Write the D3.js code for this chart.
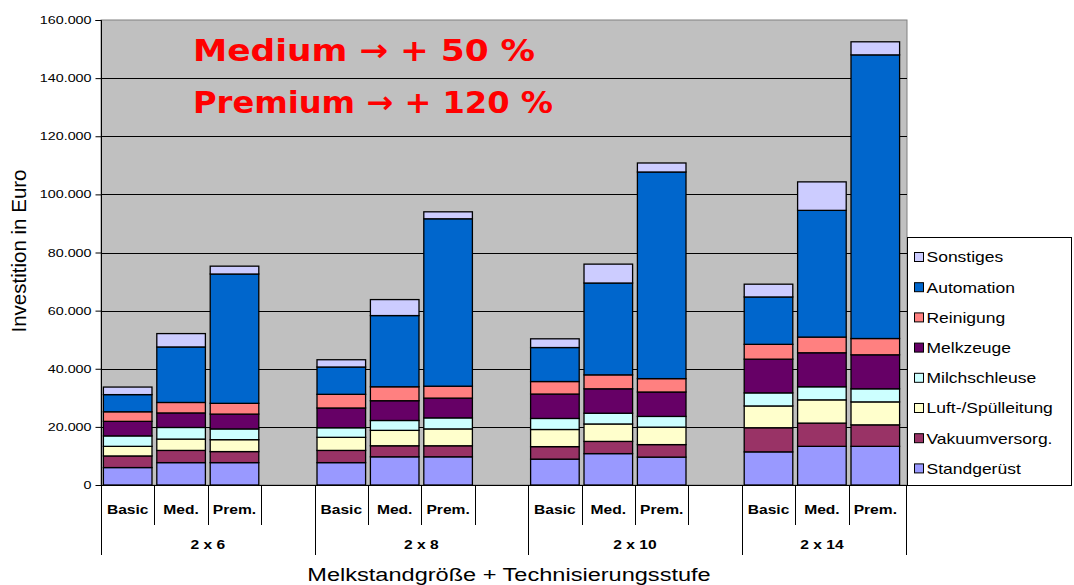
<!DOCTYPE html>
<html>
<head>
<meta charset="utf-8">
<script src="https://cdn.jsdelivr.net/npm/d3@7"></script>
<style>
    body { margin: 0; background: #fff; }
    svg { display: block; }
    text { font-family: 'Liberation Sans', Arial, sans-serif; }
</style>
</head>
<body>
<div id="chart"></div>
<script>
// Data //
const groups = ['2 x 6', '2 x 8', '2 x 10', '2 x 14']
const levels = ['Basic', 'Med.', 'Prem.']
const seriesNames = ['Standgerüst', 'Vakuumversorg.', 'Luft-/Spülleitung', 'Milchschleuse', 'Melkzeuge', 'Reinigung', 'Automation', 'Sonstiges']
const seriesColors = ['#9999FF', '#993366', '#FFFFCC', '#CCFFFF', '#660066', '#FF8080', '#0066CC', '#CCCCFF']

// one value per bar: 2x6 Basic/Med/Prem, 2x8 ..., 2x10 ..., 2x14 ...
const standgeruest = [6000, 7700, 7700, 7700, 9700, 9700, 8900, 10800, 9600, 11400, 13300, 13300]
const vakuumversorgung = [4000, 4200, 3800, 4200, 3800, 3800, 4300, 4200, 4300, 8300, 8000, 7400]
const spuelleitung = [3300, 3900, 4100, 4500, 5300, 5800, 5900, 6000, 6000, 7500, 8000, 7900]
const milchschleuse = [3600, 4000, 3700, 3300, 3400, 3800, 3800, 3700, 3700, 4500, 4500, 4500]
const melkzeuge = [5000, 5000, 5100, 6800, 6800, 6800, 8400, 8400, 8400, 11600, 11700, 11700]
const reinigung = [3300, 3600, 3700, 4700, 4800, 4100, 4300, 4800, 4600, 5100, 5400, 5600]
const automation = [5900, 19100, 44500, 9400, 24500, 57600, 11700, 31600, 71100, 16300, 43600, 97600]
const sonstiges = [2600, 4600, 2700, 2500, 5500, 2400, 3000, 6500, 3100, 4400, 9800, 4500]

const seriesValues = [standgeruest, vakuumversorgung, spuelleitung, milchschleuse, melkzeuge, reinigung, automation, sonstiges]

const yTicks = [0, 20000, 40000, 60000, 80000, 100000, 120000, 140000, 160000]
const notes = ['Medium  \u2192 + 50 %', 'Premium \u2192 + 120 %']

// Layout //
const width = 1074
const height = 585
const plot = { left: 101, right: 907, top: 20, bottom: 485, bandRight: 902 }
const SX = 1.3 // the source picture is stretched horizontally

// build the 15 category slots (a blank slot after each group but the last)
const slots = []
groups.forEach((g, gi) => {
    levels.forEach(l => slots.push({ key: `${g}|${l}`, group: g, level: l }))
    if (gi < groups.length - 1) slots.push({ key: `${g}|gap`, group: g, level: '' })
})

const rows = []
groups.forEach(g => levels.forEach(l => rows.push({ key: `${g}|${l}` })))
rows.forEach((r, i) => seriesNames.forEach((s, si) => { r[s] = seriesValues[si][i] }))

// Scales //
const x = d3.scaleBand()
    .domain(slots.map(d => d.key))
    .range([plot.left, plot.bandRight])
    .paddingInner(0.09)
    .paddingOuter(0.045)

const y = d3.scaleLinear()
    .domain([0, 160000])
    .range([plot.bottom, plot.top])

const color = d3.scaleOrdinal().domain(seriesNames).range(seriesColors)

const locale = d3.formatLocale({ decimal: ',', thousands: '.', grouping: [3], currency: ['', ' €'] })
const fmt = locale.format(',d')

const stack = d3.stack().keys(seriesNames)(rows)

// Helpers //
const stretched = (sel, tx, ty, sx = SX) => sel.attr('transform', `translate(${tx},${ty}) scale(${sx},1)`)

// Drawers //
const svg = d3.select('#chart').append('svg')
    .attr('width', width)
    .attr('height', height)

svg.append('rect')
    .attr('x', plot.left)
    .attr('y', plot.top)
    .attr('width', plot.right - plot.left)
    .attr('height', plot.bottom - plot.top)
    .attr('fill', '#C0C0C0')
    .attr('stroke', '#808080')
    .attr('stroke-width', 1)

// gridlines
svg.append('g')
    .selectAll('line')
    .data(yTicks.filter(t => t > 0 && t < 160000))
    .join('line')
        .attr('x1', plot.left)
        .attr('x2', plot.right)
        .attr('y1', d => Math.round(y(d)) + 0.5)
        .attr('y2', d => Math.round(y(d)) + 0.5)
        .attr('stroke', '#000')

// bars
svg.append('g')
    .selectAll('g')
    .data(stack)
    .join('g')
        .attr('fill', d => color(d.key))
    .selectAll('rect')
    .data(d => d)
    .join('rect')
        .attr('x', d => x(d.data.key))
        .attr('width', x.bandwidth())
        .attr('y', d => y(d[1]))
        .attr('height', d => y(d[0]) - y(d[1]))
        .attr('stroke', '#000')
        .attr('stroke-width', 1.3)

// y axis
const yAxis = svg.append('g')
    .attr('transform', `translate(${plot.left + 0.5},0)`)
    .call(d3.axisLeft(y).tickValues(yTicks).tickSize(6).tickPadding(4).tickFormat(fmt))

yAxis.select('.domain').attr('stroke', '#000').attr('d', `M-6,${plot.top + 0.5}H0V${plot.bottom + 0.5}`)
yAxis.selectAll('.tick line').attr('stroke', '#000')
yAxis.selectAll('.tick text')
    .attr('font-size', 11)
    .attr('fill', '#000')
    .each(function () {
        const t = d3.select(this)
        t.attr('x', null).attr('dy', '0.32em')
        stretched(t, -10, 0)
    })

svg.append('text')
    .attr('transform', 'translate(26,251) rotate(-90) scale(1.08,1.1)')
    .attr('text-anchor', 'middle')
    .attr('font-size', 19)
    .text('Investition in Euro')

// category axis
const cat = svg.append('g')

cat.append('line')
    .attr('x1', plot.left)
    .attr('x2', plot.right)
    .attr('y1', plot.bottom + 0.5)
    .attr('y2', plot.bottom + 0.5)
    .attr('stroke', '#000')

const step = x.step()
const slotLeft = d => x(d.key) - x.paddingInner() * step / 2

cat.selectAll('.slot-tick')
    .data(slots)
    .join('line')
        .attr('class', 'slot-tick')
        .attr('x1', d => Math.round(slotLeft(d)) + 0.5)
        .attr('x2', d => Math.round(slotLeft(d)) + 0.5)
        .attr('y1', plot.bottom)
        .attr('y2', (d, i) => (i === 0 || slots[i - 1].group !== d.group) ? 555 : 525)
        .attr('stroke', '#000')

cat.append('line')
    .attr('x1', plot.right - 0.5)
    .attr('x2', plot.right - 0.5)
    .attr('y1', plot.bottom)
    .attr('y2', 555)
    .attr('stroke', '#000')

cat.selectAll('.level-label')
    .data(slots.filter(d => d.level))
    .join('text')
        .attr('class', 'level-label')
        .attr('text-anchor', 'middle')
        .attr('font-size', 12)
        .attr('font-weight', 'bold')
        .each(function (d) {
            stretched(d3.select(this), x(d.key) + x.bandwidth() / 2, 514)
        })
        .text(d => d.level)

cat.selectAll('.group-label')
    .data(groups)
    .join('text')
        .attr('class', 'group-label')
        .attr('text-anchor', 'middle')
        .attr('font-size', 12)
        .attr('font-weight', 'bold')
        .each(function (g) {
            const first = x(`${g}|Basic`)
            const last = x(`${g}|Prem.`) + x.bandwidth()
            const isLast = g === groups[groups.length - 1]
            const mid = isLast ? (first + last) / 2 : (first + x(`${g}|gap`) + x.bandwidth()) / 2
            stretched(d3.select(this), mid, 549)
        })
        .text(g => g)

const xTitle = svg.append('text')
    .attr('text-anchor', 'middle')
    .attr('font-size', 19)
    .text('Melkstandgröße + Technisierungsstufe')
stretched(xTitle, 509, 581, 1.24)

// notes
svg.append('g')
    .selectAll('text')
    .data(notes)
    .join('text')
        .attr('x', 193)
        .attr('y', (d, i) => 61 + i * 52)
        .attr('fill', '#FF0000')
        .attr('font-size', 31)
        .attr('font-weight', 'bold')
        .style('font-family', "'Comic Sans MS', 'DejaVu Sans', sans-serif")
        .attr('textLength', (d, i) => i === 0 ? 342 : 360)
        .attr('lengthAdjust', 'spacingAndGlyphs')
        .text(d => d)

// legend
const legend = svg.append('g').attr('transform', 'translate(907.5,237.5)')

legend.append('rect')
    .attr('width', 164)
    .attr('height', 248)
    .attr('fill', '#fff')
    .attr('stroke', '#000')

const legendItems = legend.selectAll('.item')
    .data(seriesNames.slice().reverse())
    .join('g')
        .attr('class', 'item')
        .attr('transform', (d, i) => `translate(0,${20 + i * 30.2})`)

legendItems.append('rect')
    .attr('x', 7)
    .attr('y', -5)
    .attr('width', 9)
    .attr('height', 9)
    .attr('fill', d => color(d))
    .attr('stroke', '#000')

legendItems.append('text')
    .attr('font-size', 14)
    .attr('dy', '0.35em')
    .each(function () { stretched(d3.select(this), 19, 0, 1.25) })
    .text(d => d)
</script>
</body>
</html>
